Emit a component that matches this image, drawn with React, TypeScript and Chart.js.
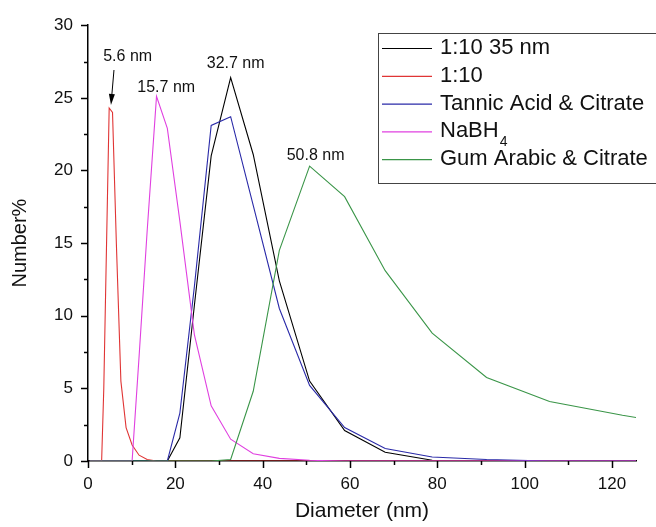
import React, { useEffect, useRef } from 'react';
import { Chart, registerables } from 'chart.js';

Chart.register(...registerables);

// Particle diameter bins (nm)
const sizes = [
  0.4, 0.4632, 0.5365, 0.6213, 0.7195, 0.8332, 0.9649, 1.117, 1.294, 1.499,
  1.736, 2.01, 2.328, 2.696, 3.122, 3.615, 4.187, 4.849, 5.615, 6.503,
  7.531, 8.721, 10.1, 11.7, 13.54, 15.69, 18.17, 21.04, 24.36, 28.21,
  32.67, 37.84, 43.82, 50.75, 58.77, 68.06, 78.82, 91.28, 105.7, 122.4, 141.8,
];

// Number% per bin
const ratio35 = [
  0, 0, 0, 0, 0, 0, 0, 0, 0, 0,
  0, 0, 0, 0, 0, 0, 0, 0, 0, 0,
  0, 0, 0, 0, 0, 0, 0, 1.6, 10.7, 21.0,
  26.4, 21.1, 12.4, 5.5, 2.1, 0.6, 0.05, 0, 0, 0, 0,
];
const ratio110 = [
  0, 0, 0, 0, 0, 0, 0, 0, 0, 0,
  0, 0, 0, 0, 0, 5.0, 14.0, 24.3, 24.0, 14.9,
  5.5, 2.3, 1.1, 0.4, 0.1, 0, 0, 0, 0, 0,
  0, 0, 0, 0, 0, 0, 0, 0, 0, 0, 0,
];
const tannicCitrate = [
  0, 0, 0, 0, 0, 0, 0, 0, 0, 0,
  0, 0, 0, 0, 0, 0, 0, 0, 0, 0,
  0, 0, 0, 0, 0, 0, 0, 3.3, 12.0, 23.1,
  23.7, 17.6, 10.5, 5.2, 2.3, 0.86, 0.28, 0.1, 0, 0, 0,
];
const nabh4 = [
  0, 0, 0, 0, 0, 0, 0, 0, 0, 0,
  0, 0, 0, 0, 0, 0, 0, 0, 0, 0,
  0, 0, 0, 7.2, 15.8, 25.1, 22.9, 16.5, 8.7, 3.8,
  1.5, 0.5, 0.18, 0.05, 0, 0, 0, 0, 0, 0, 0,
];
const gumArabicCitrate = [
  0, 0, 0, 0, 0, 0, 0, 0, 0, 0,
  0, 0, 0, 0, 0, 0, 0, 0, 0, 0,
  0, 0, 0, 0, 0, 0, 0, 0, 0, 0,
  0.1, 4.8, 14.5, 20.3, 18.2, 13.1, 8.8, 5.75, 4.1, 3.15, 2.2,
];

const seriesLabels = ['1:10 35 nm', '1:10', 'Tannic Acid & Citrate', 'NaBH4', 'Gum Arabic & Citrate'];
const seriesValues = [ratio35, ratio110, tannicCitrate, nabh4, gumArabicCitrate];
const seriesColors = ['#000000', '#e03535', '#2a2aa8', '#e040e0', '#3a9548'];
const subscriptLabels: Record<string, [string, string]> = { NaBH4: ['NaBH', '4'] };

// peak annotations: series index, bin index of peak, text
const peakSeries = [1, 3, 0, 4];
const peakBins = [17, 25, 30, 33];
const peakTexts = ['5.6 nm', '15.7 nm', '32.7 nm', '50.8 nm'];
const peakOffsets = [[18.5, -51], [9.7, -8.5], [5, -13.5], [6, -10.5]];
const arrowSeriesIdx = 0; // index into peak arrays that has an arrow

const xTitle = 'Diameter (nm)';
const yTitle = 'Number%';

const FONT = '"Liberation Sans", Arial, sans-serif';

const decorPlugin = {
  id: 'decor',
  afterDraw(chart: any) {
    const { ctx, chartArea } = chart;
    const xs = chart.scales.x;
    const ys = chart.scales.y;
    ctx.save();
    // tick marks
    ctx.strokeStyle = '#000';
    ctx.lineWidth = 1.5;
    const xStep = 20;
    for (let v = 0; v <= xs.max + 1e-9; v += xStep / 2) {
      const px = Math.round(xs.getPixelForValue(v)) + 0.5;
      const major = Math.abs(v / xStep - Math.round(v / xStep)) < 1e-6;
      ctx.beginPath();
      ctx.moveTo(px, chartArea.bottom);
      ctx.lineTo(px, chartArea.bottom + (major ? 7 : 4));
      ctx.stroke();
    }
    const yStep = 5;
    for (let v = 0; v <= ys.max + 1e-9; v += yStep / 2) {
      const py = Math.round(ys.getPixelForValue(v)) + 0.5;
      const major = Math.abs(v / yStep - Math.round(v / yStep)) < 1e-6;
      ctx.beginPath();
      ctx.moveTo(chartArea.left, py);
      ctx.lineTo(chartArea.left - (major ? 7 : 4), py);
      ctx.stroke();
    }

    // peak annotations
    ctx.fillStyle = '#111';
    ctx.font = `16px ${FONT}`;
    ctx.textAlign = 'center';
    ctx.textBaseline = 'middle';
    peakSeries.forEach((si, k) => {
      const b = peakBins[k];
      const px = xs.getPixelForValue(sizes[b]);
      const py = ys.getPixelForValue(seriesValues[si][b]);
      const [ox, oy] = peakOffsets[k];
      ctx.fillText(peakTexts[k], px + ox, py + oy);
      if (k === arrowSeriesIdx) {
        const sx = px + 4.8, sy = py - 38;
        const ex = px + 1.8, ey = py - 3;
        const ang = Math.atan2(ey - sy, ex - sx);
        const hl = 11, hw = 3;
        const bx = ex - hl * Math.cos(ang), by = ey - hl * Math.sin(ang);
        ctx.strokeStyle = '#000';
        ctx.lineWidth = 1;
        ctx.beginPath();
        ctx.moveTo(sx, sy);
        ctx.lineTo(bx, by);
        ctx.stroke();
        ctx.fillStyle = '#000';
        ctx.beginPath();
        ctx.moveTo(ex, ey);
        ctx.lineTo(bx + hw * Math.sin(ang), by - hw * Math.cos(ang));
        ctx.lineTo(bx - hw * Math.sin(ang), by + hw * Math.cos(ang));
        ctx.closePath();
        ctx.fill();
        ctx.fillStyle = '#111';
      }
    });

    // legend
    const lx = 378.5, ly = 33.5, lw = 300, lh = 150;
    ctx.fillStyle = '#fff';
    ctx.fillRect(lx, ly, lw, lh);
    ctx.strokeStyle = '#444';
    ctx.lineWidth = 1;
    ctx.strokeRect(lx, ly, lw, lh);
    ctx.textAlign = 'left';
    ctx.textBaseline = 'middle';
    chart.data.datasets.forEach((ds: any, i: number) => {
      const ry = 48 + i * 27.8;
      ctx.strokeStyle = ds.borderColor;
      ctx.lineWidth = 1.2;
      ctx.beginPath();
      ctx.moveTo(382, ry + 0.5);
      ctx.lineTo(432, ry + 0.5);
      ctx.stroke();
      ctx.fillStyle = '#111';
      ctx.font = `22px ${FONT}`;
      const sub = subscriptLabels[ds.label];
      if (sub) {
        ctx.fillText(sub[0], 440, ry);
        const w = ctx.measureText(sub[0]).width;
        ctx.font = `14px ${FONT}`;
        ctx.fillText(sub[1], 440 + w + 1, ry + 11);
      } else {
        ctx.fillText(ds.label, 440, ry);
      }
    });
    ctx.restore();
  },
};

export default function App() {
  const canvasRef = useRef<HTMLCanvasElement>(null);

  useEffect(() => {
    if (!canvasRef.current) return;
    const datasets = seriesLabels.map((label, i) => ({
      label,
      data: sizes.map((s, j) => ({ x: s, y: seriesValues[i][j] })),
      borderColor: seriesColors[i],
      backgroundColor: seriesColors[i],
      borderWidth: 1.1,
      pointRadius: 0,
      tension: 0,
      fill: false,
      order: seriesLabels.length - i,
    }));
    const chart = new Chart(canvasRef.current, {
      type: 'line',
      data: { datasets },
      options: {
        animation: false,
        responsive: false,
        events: [],
        layout: { padding: { top: 21, right: 20, left: 0, bottom: 0 } },
        plugins: { legend: { display: false }, tooltip: { enabled: false } },
        scales: {
          x: {
            type: 'linear',
            min: 0,
            max: 125.5,
            afterFit: (s: any) => { s.height = 66; },
            grid: { display: false, drawTicks: false },
            border: { display: true, color: '#000', width: 1.5 },
            ticks: {
              stepSize: 20,
              includeBounds: false,
              padding: 13,
              color: '#111',
              font: { family: FONT, size: 17 },
              maxRotation: 0,
            },
            title: {
              display: true,
              text: xTitle,
              color: '#111',
              font: { family: FONT, size: 21 },
              padding: { top: 0, bottom: 3 },
            },
          },
          y: {
            type: 'linear',
            min: 0,
            max: 30,
            afterFit: (s: any) => { s.width = 88; },
            grid: { display: false, drawTicks: false },
            border: { display: true, color: '#000', width: 1.5 },
            ticks: {
              stepSize: 5,
              includeBounds: false,
              padding: 15,
              color: '#111',
              font: { family: FONT, size: 17 },
            },
            title: {
              display: true,
              text: yTitle,
              color: '#111',
              font: { family: FONT, size: 20 },
              padding: { top: 8, bottom: 0 },
            },
          },
        },
      },
      plugins: [decorPlugin],
    } as any);
    return () => chart.destroy();
  }, []);

  return (
    <div style={{ position: 'fixed', left: 0, top: 0, width: 656, height: 527, background: '#fff' }}>
      <canvas ref={canvasRef} width={656} height={527} style={{ display: 'block' }} />
    </div>
  );
}
